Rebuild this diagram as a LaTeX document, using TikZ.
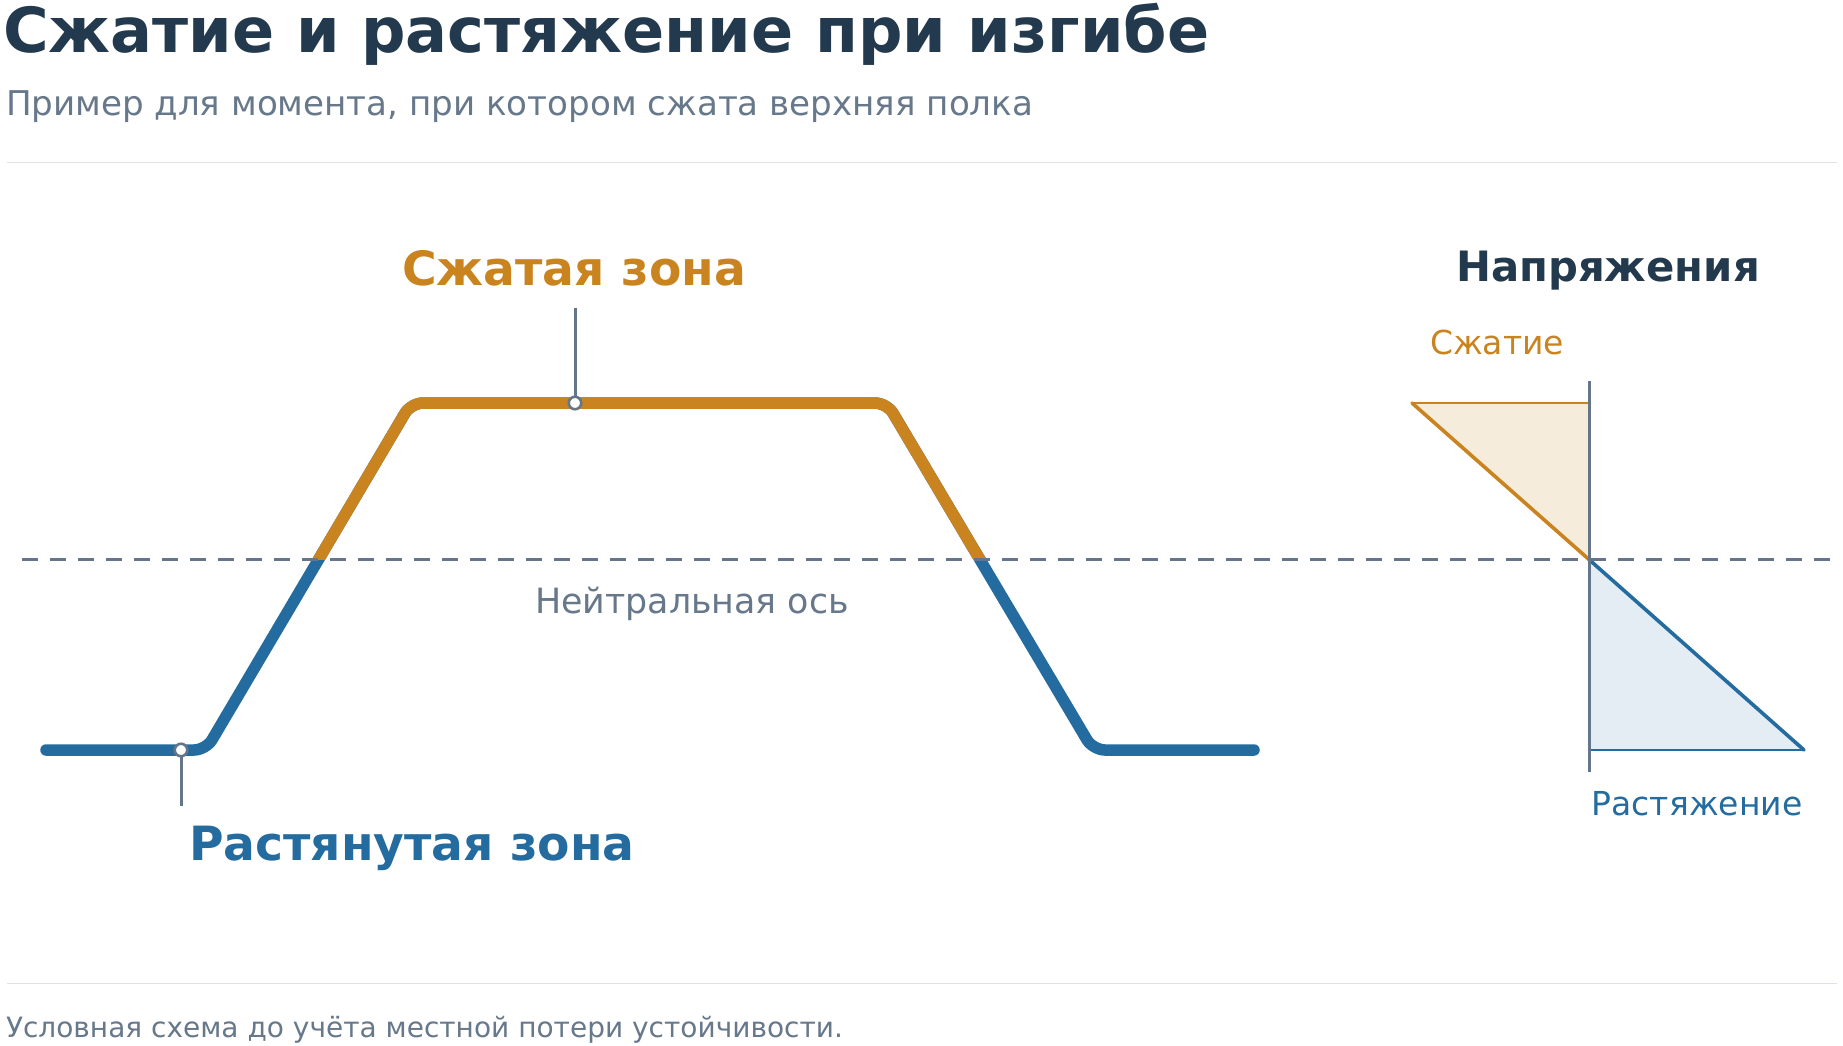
\documentclass[tikz,border=0pt]{standalone}
\usepackage{fontspec}
\setmainfont{DejaVu Sans}
\definecolor{titlec}{HTML}{233A4E}
\definecolor{greyt}{HTML}{66788A}
\definecolor{orangec}{HTML}{CA841F}
\definecolor{bluec}{HTML}{246C9F}
\definecolor{lorange}{HTML}{F6ECDC}
\definecolor{lblue}{HTML}{E4ECF4}
\definecolor{sepc}{HTML}{DEE2E6}
\definecolor{axisc}{HTML}{66768A}
\begin{document}
\begin{tikzpicture}[x=1pt,y=-1pt,
  txt/.style={inner sep=0pt, outer sep=0pt},
  sepline/.style={draw=sepc, line width=1.8pt},
  beamline/.style={line width=11.5pt, line cap=round, line join=round, rounded corners=12pt},
  neutral/.style={draw=axisc, line width=2.8pt, dash pattern=on 16pt off 12pt},
  leader/.style={draw=axisc, line width=3pt},
  marker/.style={circle, draw=axisc, fill=white, line width=2.6pt, minimum size=12.5pt, inner sep=0pt},
  stressaxis/.style={draw=axisc, line width=3pt},
  hypo/.style={line width=3.6pt, line cap=round},
  edge/.style={line width=2.2pt}
]
\useasboundingbox (0,0) rectangle (1843,1045);
\fill[white] (0,0) rectangle (1843,1045);

% header
\node[txt, anchor=base west, text=titlec] (title) at (3,52) {\fontsize{62.2}{72}\selectfont\bfseries Сжатие и растяжение при изгибе};
\node[txt, anchor=base west, text=greyt] (subtitle) at (6,115) {\fontsize{34.1}{42}\selectfont Пример для момента, при котором сжата верхняя полка};
\coordinate (s1a) at (7,162.5);
\coordinate (s1b) at (1837,162.5);
\draw[sepline] (s1a) -- (s1b);

% beam
\coordinate (b0) at (46,750);
\coordinate (b1) at (206,750);
\coordinate (b2) at (411,403);
\coordinate (b3) at (887,403);
\coordinate (b4) at (1093,750);
\coordinate (b5) at (1254,750);
\draw[beamline, draw=bluec] (b0) -- (b1) -- (b2) -- (b3) -- (b4) -- (b5);
\begin{scope}
\clip (0,300) rectangle (1200,559.5);
\draw[beamline, draw=orangec] (b0) -- (b1) -- (b2) -- (b3) -- (b4) -- (b5);
\end{scope}

% stress diagram
\coordinate (na) at (1589,559.5);
\coordinate (ct) at (1589,403);
\coordinate (cl) at (1412,403);
\coordinate (tb) at (1589,750);
\coordinate (tr) at (1804,750);
\coordinate (ax1) at (1589,381);
\coordinate (ax2) at (1589,772);
\fill[lorange] (cl) -- (ct) -- (na) -- cycle;
\fill[lblue] (na) -- (tr) -- (tb) -- cycle;
\draw[edge, draw=orangec] (cl) -- (ct);
\draw[edge, draw=bluec] (tb) -- (tr);
\draw[hypo, draw=orangec] (cl) -- (na);
\draw[hypo, draw=bluec] (na) -- (tr);
\draw[stressaxis] (ax1) -- (ax2);

% neutral axis
\coordinate (n1) at (21.5,559.5);
\coordinate (n2) at (1830,559.5);
\draw[neutral] (n1) -- (n2);
\node[txt, anchor=base, text=greyt] (nlabel) at (692,613) {\fontsize{34.8}{42}\selectfont Нейтральная ось};

% leaders and markers
\coordinate (l1) at (575,308);
\coordinate (l2) at (181,806);
\draw[leader] (575,403) -- (l1);
\draw[leader] (181,750) -- (l2);
\node[marker] (m1) at (575,403) {};
\node[marker] (m2) at (181,750) {};

\node[txt, anchor=base, text=orangec] (comp) at (574,285) {\fontsize{47.2}{56}\selectfont\bfseries Сжатая зона};
\node[txt, anchor=base west, text=bluec] (tens) at (189,860) {\fontsize{47.2}{56}\selectfont\bfseries Растянутая зона};

% stress labels
\node[txt, anchor=base, text=titlec] (stitle) at (1608,281) {\fontsize{41.8}{50}\selectfont\bfseries Напряжения};
\node[txt, anchor=base, text=orangec] (slc) at (1497,354) {\fontsize{33}{40}\selectfont Сжатие};
\node[txt, anchor=base, text=bluec] (slt) at (1697,815) {\fontsize{33}{40}\selectfont Растяжение};

% footer
\coordinate (s2a) at (7,983.5);
\coordinate (s2b) at (1837,983.5);
\draw[sepline] (s2a) -- (s2b);
\node[txt, anchor=base west, text=greyt] (footer) at (6,1037) {\fontsize{28}{34}\selectfont Условная схема до учёта местной потери устойчивости.};
\end{tikzpicture}
\end{document}
